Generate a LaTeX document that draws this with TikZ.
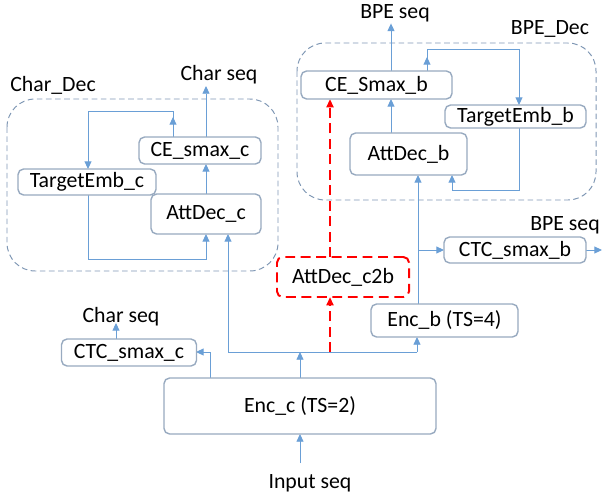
\documentclass[tikz,border=0pt]{standalone}
\usepackage{fontspec}
\setmainfont{Carlito}
\usepackage{xcolor}
\usetikzlibrary{arrows.meta}

\definecolor{boxline}{HTML}{98AAC0}
\definecolor{wire}{HTML}{6A9FD6}
\definecolor{grpline}{HTML}{7F97B4}

\tikzset{
  blk/.style={draw=boxline, line width=1pt, rounded corners=4pt, fill=white,
    inner sep=0pt, font=\fontsize{15.5}{18}\selectfont},
  lbl/.style={inner sep=1pt, font=\fontsize{15.5}{18}\selectfont},
  grp/.style={draw=grpline, dash pattern=on 4pt off 2.5pt, rounded corners=20pt, line width=0.7pt},
  wire/.style={draw=wire, line width=0.7pt},
  arr/.style={wire, -{Triangle[length=5.5pt,width=5pt]}},
  redarr/.style={draw=red, line width=1.4pt, dash pattern=on 7pt off 4pt,
    -{Triangle[length=6pt,width=5pt]}},
}

\begin{document}
\begin{tikzpicture}[x=0.025cm, y=-0.025cm]
    \useasboundingbox (0,0) rectangle (603,494);

    % decoder groups
    \draw[grp] (7,99) rectangle (278,271);
    \draw[grp] (297,43) rectangle (596,200);
    \node[lbl] (charDec) at (53,85) {Char\_Dec};
    \node[lbl] (bpeDec) at (550,29) {BPE\_Dec};

    % outputs and input
    \node[lbl] (charSeqTop) at (219,75) {Char seq};
    \node[lbl] (bpeSeqTop) at (395,13) {BPE seq};
    \node[lbl] (bpeSeqRight) at (565,225) {BPE seq};
    \node[lbl] (charSeqLow) at (121,317) {Char seq};
    \node[lbl] (inputSeq) at (310,483) {Input seq};

    % free points of the connectors
    \coordinate (cx) at (206,0);
    \coordinate (fbc) at (173,111);
    \coordinate (lpc) at (88,259);
    \coordinate (bx) at (391,0);
    \coordinate (fbb) at (427,49);
    \coordinate (fbbR) at (519,49);
    \coordinate (lpb) at (519,190);
    \coordinate (lpbL) at (452,190);
    \coordinate (encbx) at (418,0);
    \coordinate (rx) at (330,0);
    \coordinate (busL) at (228,352);
    \coordinate (busR) at (417,352);
    \coordinate (ctcTap) at (210,0);
    \coordinate (ccx) at (116,0);
    \coordinate (inTop) at (300,463);
    \coordinate (bpeOut) at (602,250);

    % Char_Dec wires
    \draw[arr] (cx |- 0,137) -- (cx |- charSeqTop.south);
    \draw[arr] (cx |- 0,194) -- (cx |- 0,164);
    \draw[arr] (fbc |- 0,137) -- ++(0,-20);
    \draw[arr] (fbc |- 0,137) -- (fbc) -- (lpc |- fbc) -- (lpc |- 0,169);
    \draw[arr] (lpc |- 0,195) -- (lpc) -- (lpc -| cx) -- (cx |- 0,234);

    % BPE_Dec wires
    \draw[arr] (bx |- 0,71) -- (bx |- bpeSeqTop.south);
    \draw[arr] (bx |- 0,133) -- (bx |- 0,99);
    \draw[arr] (fbb |- 0,71) -- ++(0,-14);
    \draw[arr] (fbb |- 0,71) -- (fbb) -- (fbbR) -- (fbbR |- 0,105);
    \draw[arr] (lpb |- 0,128) -- (lpb) -- (lpbL) -- (lpbL |- 0,175);

    % encoders
    \draw[arr] (busR) -- (busL) -- (busL |- 0,234);
    \draw[arr] (busR) -- (busR |- 0,337);
    \draw[arr] (300,378) -- (300,352);
    \draw[arr] (ctcTap |- 0,378) -- (ctcTap |- busL) -- (196,352);
    \draw[arr] (ccx |- 0,339) -- ++(0,-16);
    \draw[arr] (encbx |- 0,304) -- (encbx |- 0,175);
    \draw[arr] (encbx |- 0,250) -- (444,250);
    \draw[arr] (586,250) -- (bpeOut);
    \draw[arr] (inTop) -- (300,434);

    % red path through AttDec_c2b
    \draw[redarr] (rx |- busL) -- (rx |- 0,297);
    \draw[redarr] (rx |- 0,257) -- (rx |- 0,99);

    % blocks
    \node[blk, minimum width=3.05cm, minimum height=0.675cm] (ceC) at (200,150.5) {CE\_smax\_c};
    \node[blk, minimum width=3.45cm, minimum height=0.65cm] (tgtC) at (87,182) {TargetEmb\_c};
    \node[blk, minimum width=2.75cm, minimum height=1cm] (attC) at (206,214) {AttDec\_c};
    \node[blk, minimum width=3.775cm, minimum height=0.7cm] (ceB) at (376.5,85) {CE\_Smax\_b};
    \node[blk, minimum width=3.525cm, minimum height=0.575cm] (tgtB) at (515.5,116.5) {TargetEmb\_b};
    \node[blk, minimum width=2.925cm, minimum height=1.05cm] (attB) at (408.5,154) {AttDec\_b};
    \node[blk, draw=red, line width=1.4pt, dash pattern=on 7pt off 4pt,
      minimum width=3.3cm, minimum height=1cm] (attCB) at (343,277) {AttDec\_c2b};
    \node[blk, minimum width=3.55cm, minimum height=0.65cm] (ctcB) at (515,250) {CTC\_smax\_b};
    \node[blk, minimum width=3.675cm, minimum height=0.825cm] (encB) at (444.5,320.5) {Enc\_b (TS=4)};
    \node[blk, minimum width=6.8cm, minimum height=1.4cm] (encC) at (300,406) {Enc\_c (TS=2)};
    \node[blk, minimum width=3.375cm, minimum height=0.675cm] (ctcC) at (129,352.5) {CTC\_smax\_c};
\end{tikzpicture}
\end{document}
